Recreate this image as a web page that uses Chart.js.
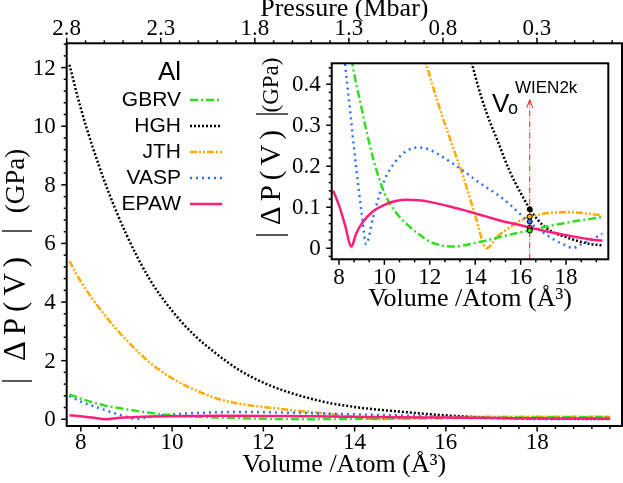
<!DOCTYPE html>
<html>
<head>
<meta charset="utf-8">
<script src="https://cdn.jsdelivr.net/npm/chart.js@4.4.0/dist/chart.umd.min.js"></script>
<style>
html, body { margin: 0; padding: 0; background: #fff; }
#wrap { position: relative; width: 623px; height: 483px; }
#main { position: absolute; left: 0; top: 0; }
#inset { position: absolute; left: 230px; top: 55px; }
</style>
</head>
<body>
<div id="wrap">
  <canvas id="main" width="623" height="483"></canvas>
  <canvas id="inset" width="385" height="265"></canvas>
</div>
<script>
// Volume per atom (Å^3) and |ΔP(V)| (GPa) for each code
const volA = [7.75, 8, 8.5, 9, 9.5, 10, 10.5, 11, 11.5, 12, 12.5, 13, 13.5, 14, 14.5, 15, 15.5, 16, 16.5, 17, 17.5, 18, 18.5, 19, 19.6];
const gbrvDp = [0.85, 0.7, 0.48, 0.34, 0.22, 0.135, 0.088, 0.058, 0.035, 0.016, 0.007, 0.004, 0.007, 0.013, 0.019, 0.026, 0.033, 0.039, 0.045, 0.051, 0.057, 0.062, 0.067, 0.071, 0.076];
const hghDp = [12.1, 10.6, 8.2, 6.3, 4.8, 3.7, 2.85, 2.2, 1.65, 1.25, 0.95, 0.72, 0.54, 0.42, 0.33, 0.26, 0.19, 0.135, 0.088, 0.055, 0.037, 0.027, 0.018, 0.011, 0.007];
const jthDp = [5.4, 4.7, 3.6, 2.7, 1.95, 1.4, 1.0, 0.7, 0.52, 0.42, 0.33, 0.25, 0.17, 0.08, 0.0, 0.03, 0.05, 0.068, 0.078, 0.084, 0.087, 0.088, 0.087, 0.084, 0.08];

const volV = [7.75, 8, 8.25, 8.5, 8.75, 9, 9.2, 9.5, 10, 10.5, 11, 11.5, 12, 12.5, 13, 13.5, 14, 14.5, 15, 15.5, 16, 16.5, 17, 17.5, 18, 18.3, 18.6, 19, 19.6];
const vaspDp = [0.8, 0.6, 0.46, 0.33, 0.2, 0.085, 0.01, 0.075, 0.165, 0.212, 0.238, 0.246, 0.24, 0.225, 0.207, 0.188, 0.167, 0.148, 0.13, 0.108, 0.082, 0.058, 0.038, 0.02, 0.007, 0.0, 0.008, 0.018, 0.035];

const volE = [7.75, 8, 8.25, 8.55, 8.75, 9, 9.5, 10, 10.5, 11, 11.5, 12, 12.5, 13, 13.5, 14, 14.5, 15, 15.5, 16, 16.5, 17, 17.5, 18, 18.5, 19, 19.6];
const epawDp = [0.14, 0.105, 0.06, 0.004, 0.035, 0.06, 0.09, 0.106, 0.115, 0.118, 0.117, 0.113, 0.107, 0.1, 0.093, 0.085, 0.077, 0.069, 0.062, 0.056, 0.049, 0.043, 0.037, 0.032, 0.027, 0.022, 0.018];

// WIEN2k equilibrium volume and the values of each code there
const v0Wien = 16.4;
const v0Codes = ['HGH', 'JTH', 'VASP', 'EPAW', 'GBRV'];
const v0Dp = [0.095, 0.077, 0.065, 0.05, 0.043];
const arrowDp = [-0.027, 0.362];

// tick labels
const volTicks = [8, 10, 12, 14, 16, 18];
const mainDpTicks = [0, 2, 4, 6, 8, 10, 12];
const insetDpTicks = [0, 0.1, 0.2, 0.3, 0.4];
const pressTicks = [2.8, 2.3, 1.8, 1.3, 0.8, 0.3];
const legendCodes = ['GBRV', 'HGH', 'JTH', 'VASP', 'EPAW'];

const SERIF = "'Liberation Serif', 'Times New Roman', serif";
const SANS = "'Liberation Sans', Arial, sans-serif";

const colors = { GBRV: '#33dd22', HGH: '#000000', JTH: '#ffaa00', VASP: '#3070ff', EPAW: '#ff1f7a' };
const dashes = { GBRV: [8, 3, 2, 3], HGH: [2, 2], JTH: [7, 2, 2, 2, 2, 2], VASP: [2, 4], EPAW: [] };

function pts(xs, ys) {
    return xs.map((x, i) => ({ x: x, y: ys[i] }));
}

function seriesSets() {
    return [
        { label: 'EPAW', data: pts(volE, epawDp), order: 1 },
        { label: 'GBRV', data: pts(volA, gbrvDp), order: 2 },
        { label: 'VASP', data: pts(volV, vaspDp), order: 3 },
        { label: 'JTH', data: pts(volA, jthDp), order: 4 },
        { label: 'HGH', data: pts(volA, hghDp), order: 5 }
    ].map(d => Object.assign(d, {
        borderColor: colors[d.label],
        borderDash: dashes[d.label],
        borderWidth: 2.5,
        pointRadius: 0,
        fill: false,
        cubicInterpolationMode: 'monotone'
    }));
}

// outward major/minor ticks plus labels, drawn by hand
function drawAxis(ctx, scale, side, minorStep, majors, fmt, gap) {
    const a = scale.chart.chartArea;
    const lo = Math.min(scale.min, scale.max), hi = Math.max(scale.min, scale.max);
    ctx.save();
    ctx.strokeStyle = '#000';
    ctx.fillStyle = '#000';
    ctx.lineWidth = 1.5;
    const tick = (v, len) => {
        const p = scale.getPixelForValue(v);
        ctx.beginPath();
        if (side === 'bottom') { ctx.moveTo(p, a.bottom); ctx.lineTo(p, a.bottom + len); }
        if (side === 'top') { ctx.moveTo(p, a.top); ctx.lineTo(p, a.top - len); }
        if (side === 'left') { ctx.moveTo(a.left, p); ctx.lineTo(a.left - len, p); }
        ctx.stroke();
    };
    for (let k = Math.ceil(lo / minorStep - 1e-6); k * minorStep <= hi + 1e-9; k++) {
        const v = k * minorStep;
        if (majors.some(m => Math.abs(m - v) < 1e-6)) continue;
        tick(v, 3);
    }
    ctx.font = '23px ' + SERIF;
    ctx.textBaseline = 'middle';
    majors.forEach(m => {
        tick(m, 5.5);
        const p = scale.getPixelForValue(m);
        if (side === 'left') {
            ctx.textAlign = 'right';
            ctx.fillText(fmt(m), a.left - gap, p + 1);
        } else {
            ctx.textAlign = 'center';
            ctx.fillText(fmt(m), p, side === 'bottom' ? a.bottom + gap : a.top - gap);
        }
    });
    ctx.restore();
}

function frame(ctx, a) {
    ctx.save();
    ctx.strokeStyle = '#000';
    ctx.lineWidth = 2;
    ctx.strokeRect(a.left, a.top, a.right - a.left, a.bottom - a.top);
    ctx.restore();
}

// rotated |ΔP(V)| (GPa) label; positions are screen y of each piece
function yTitle(ctx, x, t) {
    ctx.save();
    ctx.fillStyle = '#000';
    ctx.strokeStyle = '#000';
    ctx.lineWidth = 1.3;
    ctx.textAlign = 'center';
    ctx.textBaseline = 'middle';
    [t.barLo, t.barHi].forEach(y => {
        ctx.beginPath();
        ctx.moveTo(x - t.bar, y);
        ctx.lineTo(x + t.bar, y);
        ctx.stroke();
    });
    ctx.translate(x, 0);
    ctx.rotate(-Math.PI / 2);
    ctx.font = t.big + 'px ' + SERIF;
    ctx.letterSpacing = t.spacing + 'px';
    ctx.fillText('ΔP(V)', -t.dp, 0);
    ctx.letterSpacing = '0px';
    ctx.font = t.small + 'px ' + SERIF;
    ctx.fillText('(GPa)', -t.unit, 0);
    ctx.restore();
}

function fixedTicks(list) {
    return s => { s.ticks = list.map(v => ({ value: v })); };
}

const num = v => String(v);
const oneDec = v => v === 0 ? '0' : v.toFixed(1);

const mainDecor = {
    id: 'mainDecor',
    afterDraw(chart) {
        const ctx = chart.ctx, a = chart.chartArea;
        frame(ctx, a);
        drawAxis(ctx, chart.scales.x, 'bottom', 0.4, volTicks, num, 17);
        drawAxis(ctx, chart.scales.x2, 'top', 0.1, pressTicks, oneDec, 14);
        drawAxis(ctx, chart.scales.y, 'left', 0.4, mainDpTicks, num, 11);

        ctx.save();
        ctx.fillStyle = '#000';
        ctx.font = '26px ' + SERIF;
        ctx.textAlign = 'center';
        ctx.textBaseline = 'middle';
        const cx = (a.left + a.right) / 2;
        ctx.fillText('Pressure (Mbar)', cx, 9);
        ctx.fillText('Volume /Atom (Å³)', cx, 465);
        ctx.restore();
        yTitle(ctx, 17, { barLo: 381, barHi: 231, dp: 306, unit: 181, big: 31, small: 27, spacing: 6, bar: 15 });

        // legend
        ctx.save();
        ctx.fillStyle = '#000';
        ctx.textAlign = 'right';
        ctx.textBaseline = 'middle';
        ctx.font = '26px ' + SANS;
        ctx.fillText('Al', 181, 73);
        ctx.font = '21px ' + SANS;
        legendCodes.forEach((c, i) => {
            const y = 100 + i * 26;
            ctx.fillText(c, 181, y);
            ctx.save();
            ctx.strokeStyle = colors[c];
            ctx.lineWidth = 2.5;
            ctx.setLineDash(dashes[c]);
            ctx.beginPath();
            ctx.moveTo(190, y);
            ctx.lineTo(222, y);
            ctx.stroke();
            ctx.restore();
        });
        ctx.restore();
    }
};

const insetDecor = {
    id: 'insetDecor',
    afterDraw(chart) {
        const ctx = chart.ctx, a = chart.chartArea;
        const xs = chart.scales.x, ys = chart.scales.y;
        frame(ctx, a);
        drawAxis(ctx, xs, 'bottom', 2 / 3, volTicks, num, 19);
        drawAxis(ctx, ys, 'left', 0.02, insetDpTicks, oneDec, 11);

        // arrow head on the WIEN2k line
        const px = xs.getPixelForValue(v0Wien), py = ys.getPixelForValue(arrowDp[1]);
        ctx.save();
        ctx.strokeStyle = '#ee2222';
        ctx.lineWidth = 1;
        ctx.beginPath();
        ctx.moveTo(px - 3, py + 8);
        ctx.lineTo(px, py);
        ctx.lineTo(px + 3, py + 8);
        ctx.stroke();
        ctx.restore();

        ctx.save();
        ctx.fillStyle = '#000';
        ctx.textBaseline = 'alphabetic';
        ctx.textAlign = 'left';
        ctx.font = '26px ' + SANS;
        ctx.fillText('V', 262, 57);
        ctx.font = '18px ' + SANS;
        ctx.fillText('o', 278, 59);
        ctx.font = '17px ' + SANS;
        ctx.fillText('WIEN2k', 285, 38);

        ctx.font = '26px ' + SERIF;
        ctx.textAlign = 'center';
        ctx.textBaseline = 'middle';
        ctx.fillText('Volume /Atom (Å³)', (a.left + a.right) / 2, 244);
        ctx.restore();
        yTitle(ctx, 42, { barLo: 180, barHi: 59, dp: 120, unit: 30, big: 29, small: 23, spacing: 5, bar: 16 });
    }
};

const noGrid = { display: false, drawTicks: false };
const noTicks = { display: false };

new Chart(document.getElementById('main'), {
    type: 'line',
    data: { datasets: seriesSets() },
    options: {
        responsive: false,
        animation: false,
        events: [],
        layout: { padding: { left: 0, right: 1, top: 0, bottom: 0 } },
        plugins: { legend: { display: false }, tooltip: { enabled: false } },
        scales: {
            x: {
                type: 'linear', position: 'bottom', min: 7.69, max: 19.86,
                afterBuildTicks: fixedTicks(volTicks),
                afterFit: s => { s.height = 57; },
                grid: noGrid, border: { display: false }, ticks: noTicks
            },
            x2: {
                type: 'linear', position: 'top', min: -0.152, max: 2.8, reverse: true,
                afterBuildTicks: fixedTicks(pressTicks),
                afterFit: s => { s.height = 43.3; },
                grid: noGrid, border: { display: false }, ticks: noTicks
            },
            y: {
                type: 'linear', min: -0.23, max: 12.83,
                afterBuildTicks: fixedTicks(mainDpTicks),
                afterFit: s => { s.width = 66.7; },
                grid: noGrid, border: { display: false }, ticks: noTicks
            }
        }
    },
    plugins: [mainDecor]
});

const insetSets = seriesSets();
insetSets.push({
    label: 'V0 line',
    data: arrowDp.map(y => ({ x: v0Wien, y: y })),
    borderColor: '#ee2222', borderWidth: 1, borderDash: [6, 2, 1, 2],
    pointRadius: 0, order: 6
});
insetSets.push({
    label: 'V0 points',
    data: v0Dp.map(y => ({ x: v0Wien, y: y })),
    showLine: false,
    pointRadius: 2.5,
    pointBorderWidth: 1,
    pointBorderColor: '#000',
    pointBackgroundColor: v0Codes.map(c => colors[c]),
    order: 0
});

new Chart(document.getElementById('inset'), {
    type: 'line',
    data: { datasets: insetSets },
    options: {
        responsive: false,
        animation: false,
        events: [],
        layout: { padding: { left: 0, right: 6.7, top: 8.3, bottom: 0 } },
        plugins: { legend: { display: false }, tooltip: { enabled: false } },
        scales: {
            x: {
                type: 'linear', min: 7.68, max: 19.86,
                afterBuildTicks: fixedTicks(volTicks),
                afterFit: s => { s.height = 60.7; },
                grid: noGrid, border: { display: false }, ticks: noTicks
            },
            y: {
                type: 'linear', min: -0.027, max: 0.451,
                afterBuildTicks: fixedTicks(insetDpTicks),
                afterFit: s => { s.width = 101.7; },
                grid: noGrid, border: { display: false }, ticks: noTicks
            }
        }
    },
    plugins: [insetDecor]
});
</script>
</body>
</html>
